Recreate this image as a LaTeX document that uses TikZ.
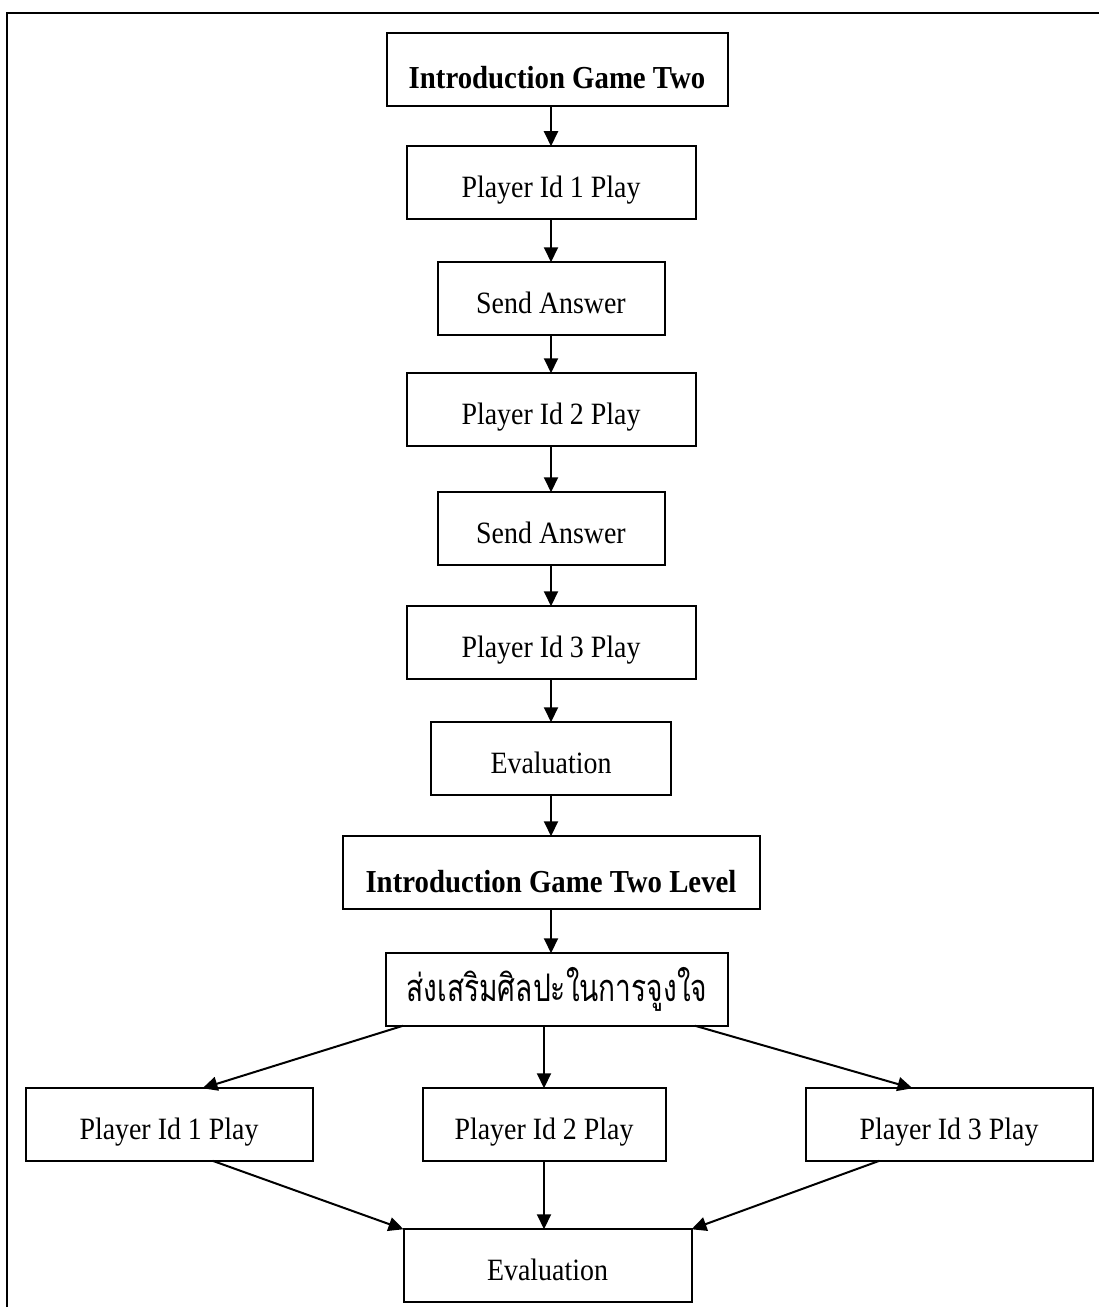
\documentclass[tikz,border=0pt]{standalone}
\usepackage{fontspec}
\setmainfont{Liberation Serif}[FakeStretch=0.9]
\newfontfamily\thaifont{Loma}[Script=Thai, FakeStretch=0.74]
\usetikzlibrary{arrows.meta,positioning}
\tikzset{
  flowbox/.style={draw, line width=1pt, outer sep=0pt, minimum width=#1,
                  minimum height=36.25pt, inner sep=2pt,
                  font=\fontsize{15.5}{18}\selectfont,
                  text height=17.9pt, text depth=3.4pt},
  flowbox/.default=144.5pt,
  boldbox/.style ={flowbox=#1, font=\fontsize{16}{19}\selectfont\bfseries,
                   text height=22.9pt},
  thaibox/.style ={flowbox=171pt, font=\fontsize{19}{22}\thaifont,
                   text height={}, text depth={}},
  arr/.style     ={-{Triangle[length=7.5pt,width=7pt]}, line width=1pt},
  pageframe/.style={line width=1.25pt},
}
\begin{document}
\begin{tikzpicture}[node distance=20pt]
  \useasboundingbox (0,0) rectangle (549.5pt,-655.5pt);
  \coordinate (fbl) at (3.5pt,-653.5pt);
  \coordinate (ftr) at (549.5pt,-6.5pt);
  \draw[pageframe] (fbl) |- (ftr);

  \node[boldbox=170.5pt] (intro) at (278.5pt,-34.75pt) {Introduction Game Two};
  \node[flowbox, below=20.25pt of intro, xshift=-3pt] (play1) {Player Id 1 Play};
  \node[flowbox=113.5pt, below=21.75pt of play1] (send1) {Send Answer};
  \node[flowbox, below=19.25pt of send1] (play2) {Player Id 2 Play};
  \node[flowbox=113.5pt, below=23.25pt of play2] (send2) {Send Answer};
  \node[flowbox, below=20.75pt of send2] (play3) {Player Id 3 Play};
  \node[flowbox=120pt, below=21.75pt of play3] (eval) {Evaluation};
  \node[boldbox=208.5pt, below=20.75pt of eval] (level) {Introduction Game Two Level};
  \node[thaibox, below=22.25pt of level, xshift=3pt] (motiv) {ส่งเสริมศิลปะในการจูงใจ};

  \node[flowbox=121.5pt, below=31.25pt of motiv, xshift=-6.5pt] (lvplay2) {Player Id 2 Play};
  \node[flowbox=143.5pt, left=55pt of lvplay2] (lvplay1) {Player Id 1 Play};
  \node[flowbox=143.5pt, right=70pt of lvplay2] (lvplay3) {Player Id 3 Play};
  \node[flowbox=144pt, below=34.25pt of lvplay2, xshift=1.75pt] (lveval) {Evaluation};

  \draw[arr](intro.south -| play1)--(play1);\draw[arr](play1)--(send1);
  \draw[arr](send1)--(play2);\draw[arr](play2)--(send2);\draw[arr](send2)--(play3);
  \draw[arr](play3)--(eval);\draw[arr](eval)--(level);
  \draw[arr](level)--(level |- motiv.north);
  \draw[arr]([xshift=8.5pt]motiv.south west)--([xshift=16.75pt]lvplay1.north);
  \draw[arr](motiv.south -| lvplay2)--(lvplay2);
  \draw[arr]([xshift=-16.5pt]motiv.south east)--([xshift=-18.25pt]lvplay3.north);
  \draw[arr]([xshift=21.75pt]lvplay1.south)--(lveval.north west);
  \draw[arr](lvplay2)--(lvplay2 |- lveval.north);
  \draw[arr]([xshift=-34.75pt]lvplay3.south)--(lveval.north east);
\end{tikzpicture}
\end{document}
